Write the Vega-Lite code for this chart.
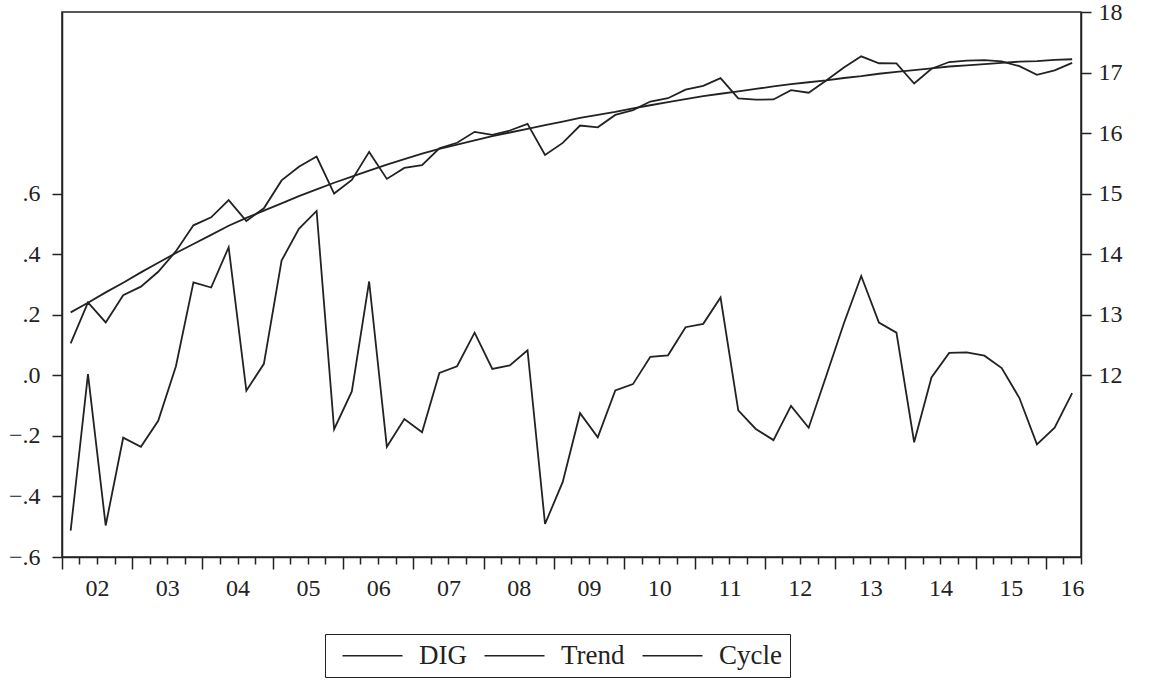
{
  "$schema": "https://vega.github.io/schema/vega-lite/v6.json",
  "width": 1019,
  "height": 545,
  "autosize": {"type": "none"},
  "padding": {"left": 62, "top": 12, "right": 71, "bottom": 123},
  "background": "white",
  "config": {
    "font": "Liberation Serif",
    "view": {"stroke": "#222", "strokeWidth": 1.5},
    "axis": {
      "grid": false,
      "title": null,
      "domainColor": "#222",
      "domainWidth": 1.5,
      "tickColor": "#222",
      "tickWidth": 1.5,
      "labelColor": "#222",
      "labelFont": "Liberation Serif",
      "labelFontSize": 24
    },
    "legend": {
      "labelFont": "Liberation Serif",
      "labelFontSize": 27,
      "labelColor": "#222"
    }
  },
  "data": {
    "values": [
      {"date": "2002-02-15", "DIG": 12.527, "Trend": 13.04, "Cycle": -0.513},
      {"date": "2002-05-16", "DIG": 13.204, "Trend": 13.20, "Cycle": 0.004},
      {"date": "2002-08-16", "DIG": 12.874, "Trend": 13.37, "Cycle": -0.496},
      {"date": "2002-11-15", "DIG": 13.324, "Trend": 13.53, "Cycle": -0.206},
      {"date": "2003-02-15", "DIG": 13.464, "Trend": 13.70, "Cycle": -0.236},
      {"date": "2003-05-16", "DIG": 13.710, "Trend": 13.86, "Cycle": -0.150},
      {"date": "2003-08-16", "DIG": 14.050, "Trend": 14.02, "Cycle": 0.030},
      {"date": "2003-11-15", "DIG": 14.477, "Trend": 14.17, "Cycle": 0.307},
      {"date": "2004-02-15", "DIG": 14.610, "Trend": 14.32, "Cycle": 0.290},
      {"date": "2004-05-16", "DIG": 14.893, "Trend": 14.47, "Cycle": 0.423},
      {"date": "2004-08-16", "DIG": 14.549, "Trend": 14.60, "Cycle": -0.051},
      {"date": "2004-11-15", "DIG": 14.758, "Trend": 14.72, "Cycle": 0.038},
      {"date": "2005-02-15", "DIG": 15.219, "Trend": 14.84, "Cycle": 0.379},
      {"date": "2005-05-16", "DIG": 15.444, "Trend": 14.96, "Cycle": 0.484},
      {"date": "2005-08-16", "DIG": 15.613, "Trend": 15.07, "Cycle": 0.543},
      {"date": "2005-11-15", "DIG": 15.002, "Trend": 15.18, "Cycle": -0.178},
      {"date": "2006-02-15", "DIG": 15.227, "Trend": 15.28, "Cycle": -0.053},
      {"date": "2006-05-16", "DIG": 15.690, "Trend": 15.38, "Cycle": 0.310},
      {"date": "2006-08-16", "DIG": 15.244, "Trend": 15.48, "Cycle": -0.236},
      {"date": "2006-11-15", "DIG": 15.426, "Trend": 15.57, "Cycle": -0.144},
      {"date": "2007-02-15", "DIG": 15.472, "Trend": 15.66, "Cycle": -0.188},
      {"date": "2007-05-16", "DIG": 15.748, "Trend": 15.74, "Cycle": 0.008},
      {"date": "2007-08-16", "DIG": 15.840, "Trend": 15.81, "Cycle": 0.030},
      {"date": "2007-11-15", "DIG": 16.021, "Trend": 15.88, "Cycle": 0.141},
      {"date": "2008-02-15", "DIG": 15.971, "Trend": 15.95, "Cycle": 0.021},
      {"date": "2008-05-16", "DIG": 16.043, "Trend": 16.01, "Cycle": 0.033},
      {"date": "2008-08-16", "DIG": 16.153, "Trend": 16.07, "Cycle": 0.083},
      {"date": "2008-11-15", "DIG": 15.639, "Trend": 16.13, "Cycle": -0.491},
      {"date": "2009-02-15", "DIG": 15.838, "Trend": 16.19, "Cycle": -0.352},
      {"date": "2009-05-16", "DIG": 16.125, "Trend": 16.25, "Cycle": -0.125},
      {"date": "2009-08-16", "DIG": 16.095, "Trend": 16.30, "Cycle": -0.205},
      {"date": "2009-11-15", "DIG": 16.300, "Trend": 16.35, "Cycle": -0.050},
      {"date": "2010-02-15", "DIG": 16.381, "Trend": 16.41, "Cycle": -0.029},
      {"date": "2010-05-16", "DIG": 16.521, "Trend": 16.46, "Cycle": 0.061},
      {"date": "2010-08-16", "DIG": 16.576, "Trend": 16.51, "Cycle": 0.066},
      {"date": "2010-11-15", "DIG": 16.719, "Trend": 16.56, "Cycle": 0.159},
      {"date": "2011-02-15", "DIG": 16.780, "Trend": 16.61, "Cycle": 0.170},
      {"date": "2011-05-16", "DIG": 16.907, "Trend": 16.65, "Cycle": 0.257},
      {"date": "2011-08-16", "DIG": 16.574, "Trend": 16.69, "Cycle": -0.116},
      {"date": "2011-11-15", "DIG": 16.553, "Trend": 16.73, "Cycle": -0.177},
      {"date": "2012-02-15", "DIG": 16.556, "Trend": 16.77, "Cycle": -0.214},
      {"date": "2012-05-16", "DIG": 16.709, "Trend": 16.81, "Cycle": -0.101},
      {"date": "2012-08-16", "DIG": 16.667, "Trend": 16.84, "Cycle": -0.173},
      {"date": "2012-11-15", "DIG": 16.868, "Trend": 16.87, "Cycle": -0.002},
      {"date": "2013-02-15", "DIG": 17.082, "Trend": 16.91, "Cycle": 0.172},
      {"date": "2013-05-16", "DIG": 17.268, "Trend": 16.94, "Cycle": 0.328},
      {"date": "2013-08-16", "DIG": 17.154, "Trend": 16.98, "Cycle": 0.174},
      {"date": "2013-11-15", "DIG": 17.151, "Trend": 17.01, "Cycle": 0.141},
      {"date": "2014-02-15", "DIG": 16.819, "Trend": 17.04, "Cycle": -0.221},
      {"date": "2014-05-16", "DIG": 17.063, "Trend": 17.07, "Cycle": -0.007},
      {"date": "2014-08-16", "DIG": 17.174, "Trend": 17.10, "Cycle": 0.074},
      {"date": "2014-11-15", "DIG": 17.196, "Trend": 17.12, "Cycle": 0.076},
      {"date": "2015-02-15", "DIG": 17.205, "Trend": 17.14, "Cycle": 0.065},
      {"date": "2015-05-16", "DIG": 17.184, "Trend": 17.16, "Cycle": 0.024},
      {"date": "2015-08-16", "DIG": 17.105, "Trend": 17.18, "Cycle": -0.075},
      {"date": "2015-11-15", "DIG": 16.962, "Trend": 17.19, "Cycle": -0.228},
      {"date": "2016-02-15", "DIG": 17.037, "Trend": 17.21, "Cycle": -0.173},
      {"date": "2016-05-16", "DIG": 17.161, "Trend": 17.22, "Cycle": -0.059}
    ]
  },
  "encoding": {
    "x": {
      "field": "date",
      "type": "temporal",
      "scale": {
        "type": "utc",
        "domain": [
          {"year": 2002, "month": 1, "date": 1, "utc": true},
          {"year": 2016, "month": 7, "date": 1, "utc": true}
        ]
      },
      "axis": {
        "tickCount": {"interval": "month", "step": 3},
        "tickSize": {"condition": {"test": "utcmonth(datum.value) === 0", "value": 12}, "value": 7},
        "labelExpr": "utcmonth(datum.value) === 0 ? utcFormat(datum.value, '%y') : ''",
        "labelOffset": {"condition": {"test": "utcyear(datum.value) === 2016", "value": 26}, "value": 35},
        "labelFlush": false,
        "labelOverlap": false,
        "labelBound": false,
        "labelPadding": 7
      }
    },
    "color": {
      "field": "series",
      "type": "nominal",
      "scale": {"domain": ["DIG", "Trend", "Cycle"], "range": ["#222", "#222", "#222"]},
      "legend": {
        "title": null,
        "orient": "none",
        "direction": "horizontal",
        "legendX": 263,
        "legendY": 622,
        "symbolType": "M-3,0H3",
        "symbolSize": 400,
        "symbolOffset": 26,
        "symbolStrokeWidth": 1.5,
        "symbolStrokeColor": "#222",
        "labelOffset": 33,
        "columnPadding": 8,
        "padding": 8,
        "strokeColor": "#222"
      }
    }
  },
  "layer": [
    {
      "transform": [{"fold": ["DIG", "Trend"], "as": ["series", "value"]}],
      "mark": {"type": "line", "strokeWidth": 1.8},
      "encoding": {
        "y": {
          "field": "value",
          "type": "quantitative",
          "scale": {"domain": [9, 18], "zero": false, "nice": false},
          "axis": {
            "orient": "right",
            "values": [12, 13, 14, 15, 16, 17, 18],
            "format": "d",
            "tickSize": 10,
            "labelPadding": 7
          }
        }
      }
    },
    {
      "transform": [{"fold": ["Cycle"], "as": ["series", "value"]}],
      "mark": {"type": "line", "strokeWidth": 1.8},
      "encoding": {
        "y": {
          "field": "value",
          "type": "quantitative",
          "scale": {"domain": [-0.6, 1.2], "zero": false, "nice": false},
          "axis": {
            "orient": "left",
            "values": [-0.6, -0.4, -0.2, 0, 0.2, 0.4, 0.6],
            "labelExpr": "replace(format(datum.value, '.1f'), '0.', '.')",
            "tickSize": 10,
            "labelPadding": 12
          }
        }
      }
    }
  ],
  "resolve": {"scale": {"y": "independent"}}
}
